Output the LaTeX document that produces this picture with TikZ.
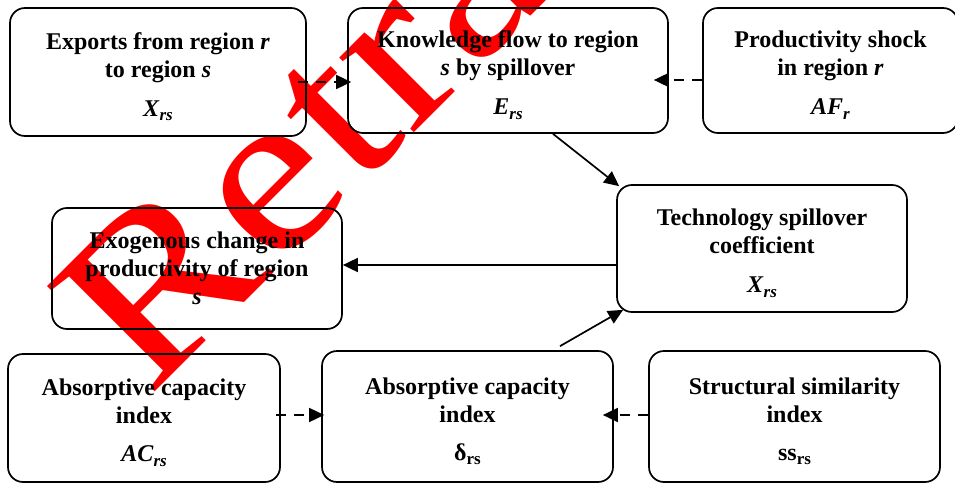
\documentclass[tikz,border=0pt]{standalone}
\usepackage{fontspec}
\setmainfont{Liberation Serif}
\usetikzlibrary{arrows.meta,calc}
\newcommand\vsub[2]{\textbf{\textit{#1}}\raisebox{-4.5pt}{\fontsize{17}{17}\selectfont\textbf{\textit{#2}}}}
\newcommand\usub[2]{\textbf{#1}\raisebox{-4.5pt}{\fontsize{17}{17}\selectfont\textbf{#2}}}
\newcommand\tstr{\rule{0pt}{26pt}}
\tikzset{
  box/.style={draw, line width=1.7pt, rounded corners=15pt, align=center,
    font=\fontsize{24}{28}\selectfont\bfseries, inner sep=0pt},
  arr/.style={line width=1.7pt, -{Triangle[length=15pt,width=14pt]}},
  dsh/.style={arr, dash pattern=on 10pt off 8pt},
  wmark/.style={text=red, font=\fontsize{230}{230}\selectfont, inner sep=0pt}
}
\begin{document}
\begin{tikzpicture}
\useasboundingbox (0,0) rectangle (955pt,-484pt);
\begin{scope}
\clip (0,0) rectangle (955pt,-484pt);
\node[wmark, rotate=45, anchor=base west] (wm) at (148pt,-399pt) {\scalebox{1.16}[1]{Retracted}};
\end{scope}

\node[box, minimum width=296pt, minimum height=128pt] (exp) at (158pt,-72pt)
  {\tstr Exports from region \textit{r}\\to region \textit{s}\\[11pt]\vsub{X}{rs}};
\node[box, minimum width=320pt, minimum height=125pt] (know) at (508pt,-70.5pt)
  {\tstr Knowledge flow to region\\\textit{s} by spillover\\[11pt]\vsub{E}{rs}};
\node[box, minimum width=255pt, minimum height=125pt] (prod) at (830.5pt,-70.5pt)
  {\tstr Productivity shock\\in region \textit{r}\\[11pt]\vsub{AF}{r}};
\node[box, minimum width=290pt, minimum height=127pt] (tech) at (762pt,-248.5pt)
  {\tstr Technology spillover\\coefficient\\[11pt]\vsub{X}{rs}};
\node[box, minimum width=290pt, minimum height=121pt] (exo) at (197pt,-268.5pt)
  {Exogenous change in\\productivity of region\\\textit{s}};
\node[box, minimum width=272pt, minimum height=128pt] (ac) at (144pt,-418pt)
  {\tstr Absorptive capacity\\index\\[10pt]\vsub{AC}{rs}};
\node[box, minimum width=291pt, minimum height=131pt] (delta) at (467.5pt,-416.5pt)
  {\tstr Absorptive capacity\\index\\[10pt]\usub{δ}{rs}};
\node[box, minimum width=291pt, minimum height=131pt] (struct) at (794.5pt,-416.5pt)
  {\tstr Structural similarity\\index\\[10pt]\usub{ss}{rs}};

\draw[dsh] ($(exp.east)+(-9pt,-10pt)$) -- ($(know.west)+(4pt,-11.5pt)$);
\draw[dsh] ($(prod.west)+(0,-9.5pt)$) -- ($(know.east)+(-15pt,-9.5pt)$);
\draw[arr] ($(know.south)+(45pt,0)$) -- ($(tech.north west)+(3pt,-2pt)$);
\draw[arr] ($(tech.west)+(0,-16.5pt)$) -- ($(exo.east)+(0,3.5pt)$);
\draw[arr] ($(delta.north)+(92.5pt,4pt)$) -- ($(tech.south west)+(7pt,3pt)$);
\draw[dsh] ($(ac.east)+(-5pt,3pt)$) -- ($(delta.west)+(3pt,1.5pt)$);
\draw[dsh] ($(struct.west)+(0,1.5pt)$) -- ($(delta.east)+(-11pt,1.5pt)$);
\end{tikzpicture}
\end{document}
